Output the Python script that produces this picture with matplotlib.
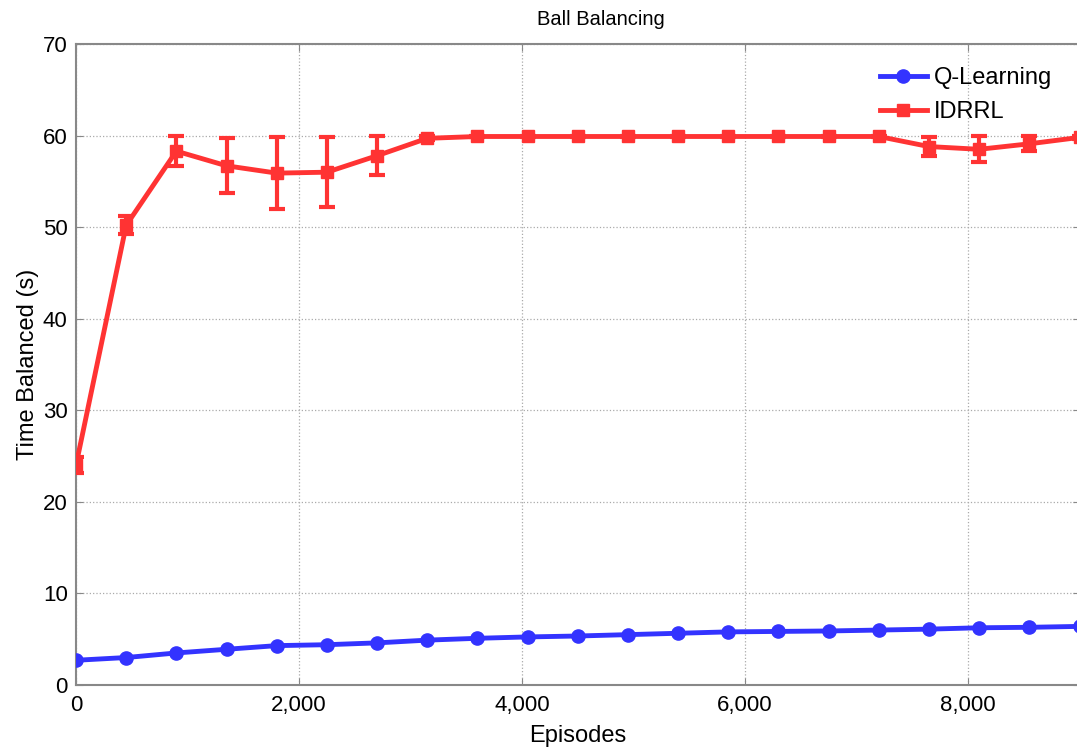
import numpy as np
import matplotlib.pyplot as plt

# data
episodes = [0, 450, 900, 1350, 1800, 2250, 2700, 3150, 3600, 4050, 4500,
            4950, 5400, 5850, 6300, 6750, 7200, 7650, 8100, 8550, 9000]
q_learning = [2.7, 3.0, 3.5, 3.9, 4.3, 4.4, 4.6, 4.9, 5.1, 5.25, 5.35,
              5.5, 5.65, 5.8, 5.85, 5.9, 6.0, 6.1, 6.25, 6.3, 6.4]
idrrl = [24.0, 50.2, 58.3, 56.7, 55.9, 56.0, 57.8, 59.7, 59.9, 59.9, 59.9,
         59.9, 59.9, 59.9, 59.9, 59.9, 59.9, 58.8, 58.5, 59.1, 59.8]
idrrl_err = [0.9, 1.0, 1.6, 3.0, 3.9, 3.8, 2.1, 0.2, 0.1, 0.1, 0.1,
             0.1, 0.1, 0.1, 0.1, 0.1, 0.1, 1.0, 1.4, 0.8, 0.2]

xticks = [0, 2000, 4000, 6000, 8000]
yticks = [0, 10, 20, 30, 40, 50, 60, 70]

plt.rcParams['font.family'] = ['Liberation Sans', 'DejaVu Sans']

fig = plt.figure(figsize=(10.77, 7.49), dpi=100)
ax = fig.add_axes([76 / 1077, 1 - 685 / 749, 1003.5 / 1077, 641 / 749])

blue = '#3333ff'
red = '#ff3333'

q_line, = ax.plot(episodes, q_learning, color=blue, lw=3.5, marker='o', ms=9.5,
                  label='Q-Learning', zorder=3)
eb = ax.errorbar(episodes, idrrl, yerr=idrrl_err, color=red, lw=3.5, marker='s',
                 ms=8.5, capsize=6, capthick=3, elinewidth=3, label='IDRRL', zorder=3)

ax.set_xlim(0, 9000)
ax.set_ylim(0, 70)
ax.set_xticks(xticks)
ax.set_xticklabels([f'{t:,}' for t in xticks])
ax.set_yticks(yticks)
ax.tick_params(labelsize=16, direction='in', length=5, color='#888888',
               top=True, right=True)
ax.tick_params(axis='x', pad=7)
ax.tick_params(axis='y', pad=6)

ax.grid(True, linestyle=':', color='#aaaaaa', lw=0.9)
for s in ax.spines.values():
    s.set_color('#888888')
    s.set_linewidth(1.5)

ax.set_xlabel('Episodes', fontsize=17, labelpad=7)
ax.set_ylabel('Time Balanced (s)', fontsize=17, labelpad=3)
ax.set_title('Ball Balancing', fontsize=14.5, pad=14, x=0.523)

ax.legend([q_line, eb[0]], ['Q-Learning', 'IDRRL'], loc='upper right',
          frameon=False, fontsize=17, bbox_to_anchor=(0.994, 0.997),
          handlelength=2.0, handletextpad=0.3, labelspacing=0.5)

fig.savefig('out.png', dpi=100)
